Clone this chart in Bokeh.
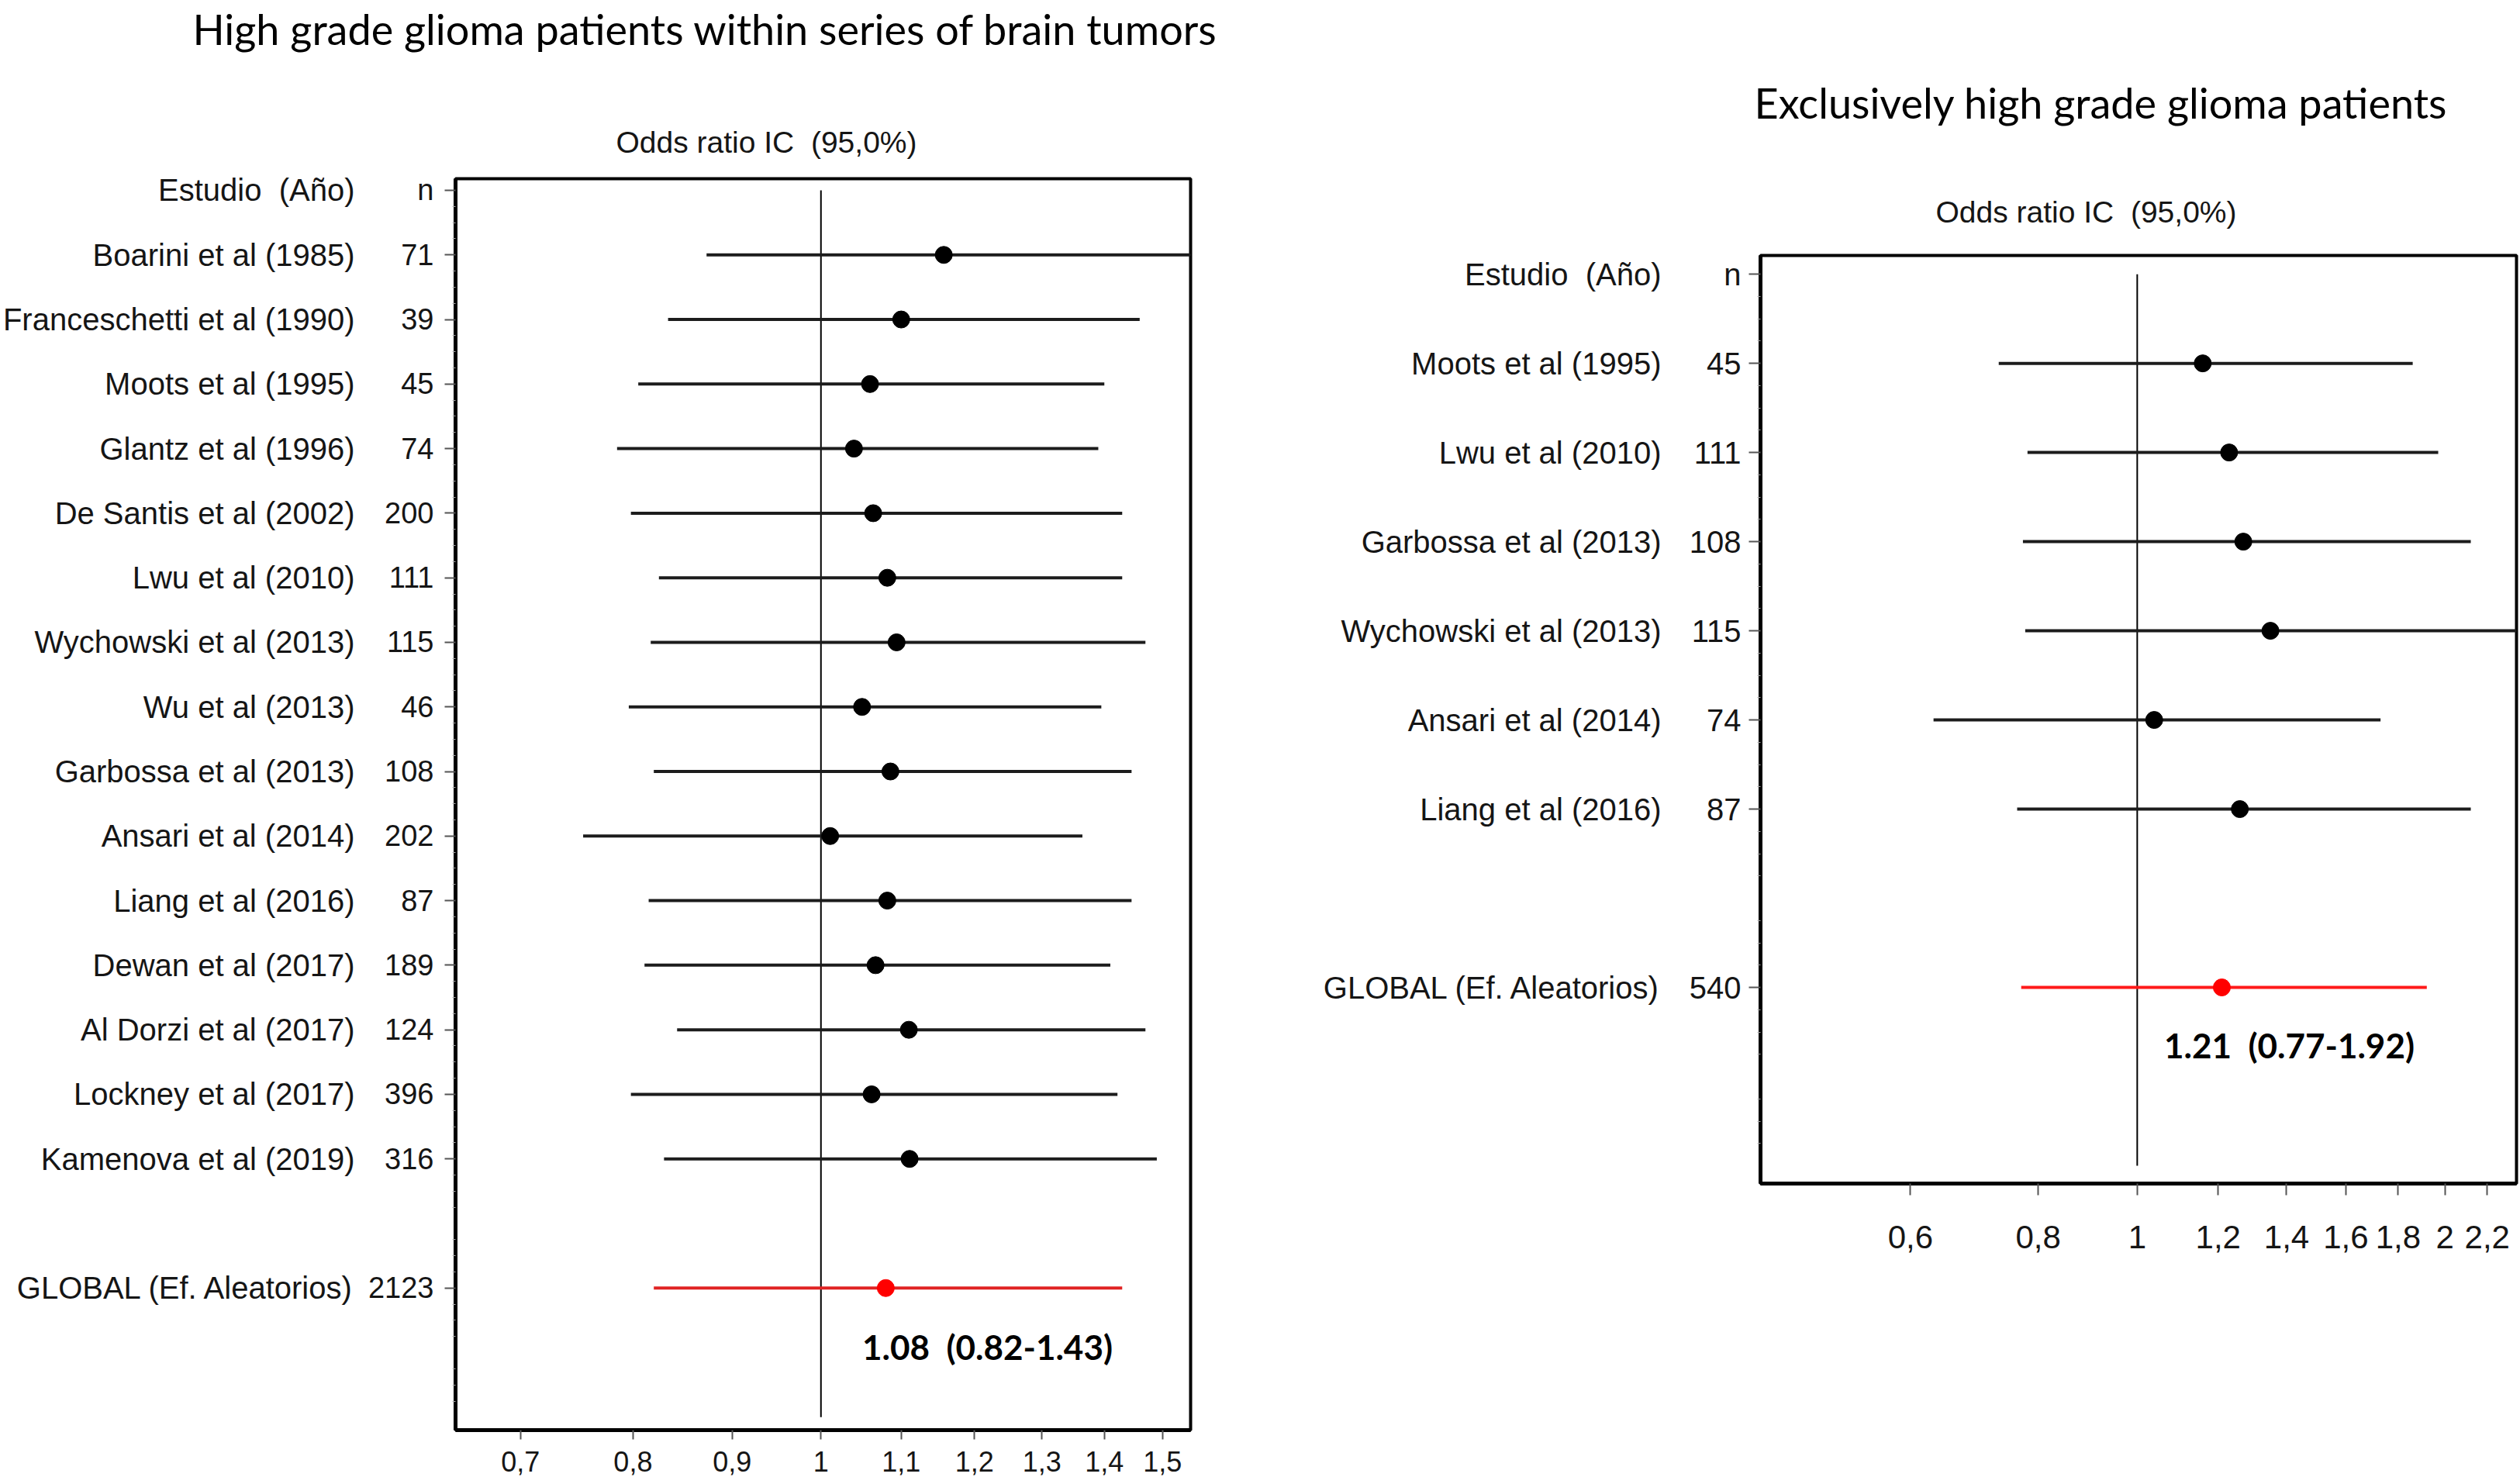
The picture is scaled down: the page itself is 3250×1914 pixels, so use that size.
from bokeh.plotting import figure
from bokeh.models import (Range1d, FixedTicker, CustomJSTickFormatter, Label,
                          LinearAxis, Title)
from bokeh.layouts import row, column
from bokeh.embed import file_html
from bokeh.resources import INLINE

# ---------------- data: left panel ----------------
left_title = "High grade glioma patients within series of brain tumors"
left_studies = ["Boarini et al (1985)", "Franceschetti et al (1990)", "Moots et al (1995)",
                "Glantz et al (1996)", "De Santis et al (2002)", "Lwu et al (2010)",
                "Wychowski et al (2013)", "Wu et al (2013)", "Garbossa et al (2013)",
                "Ansari et al (2014)", "Liang et al (2016)", "Dewan et al (2017)",
                "Al Dorzi et al (2017)", "Lockney et al (2017)", "Kamenova et al (2019)"]
left_n = [71, 39, 45, 74, 200, 111, 115, 46, 108, 202, 87, 189, 124, 396, 316]
left_or = [1.157, 1.10, 1.06, 1.04, 1.064, 1.082, 1.094, 1.05, 1.086, 1.011,
           1.082, 1.067, 1.110, 1.062, 1.111]
left_lo = [0.873, 0.834, 0.805, 0.785, 0.798, 0.825, 0.817, 0.796, 0.820, 0.754,
           0.815, 0.811, 0.843, 0.798, 0.830]
left_hi = [1.62, 1.46, 1.40, 1.39, 1.43, 1.43, 1.47, 1.395, 1.446, 1.364,
           1.446, 1.41, 1.47, 1.422, 1.49]
left_global_n = 2123
left_global_or = 1.08
left_global_lo = 0.82
left_global_hi = 1.43
left_ticks = [0.7, 0.8, 0.9, 1, 1.1, 1.2, 1.3, 1.4, 1.5]
left_summary = "1.08\u00a0 (0.82-1.43)"

# ---------------- data: right panel ----------------
right_title = "Exclusively high grade glioma patients"
right_studies = ["Moots et al (1995)", "Lwu et al (2010)", "Garbossa et al (2013)",
                 "Wychowski et al (2013)", "Ansari et al (2014)", "Liang et al (2016)"]
right_n = [45, 111, 108, 115, 74, 87]
right_or = [1.159, 1.23, 1.27, 1.35, 1.039, 1.26]
right_lo = [0.732, 0.781, 0.773, 0.777, 0.632, 0.763]
right_hi = [1.86, 1.97, 2.12, 2.6, 1.73, 2.12]
right_global_n = 540
right_global_or = 1.21
right_global_lo = 0.77
right_global_hi = 1.92
right_ticks = [0.6, 0.8, 1, 1.2, 1.4, 1.6, 1.8, 2, 2.2]
right_summary = "1.21\u00a0 (0.77-1.92)"

# ---------------- shared texts ----------------
global_label = "GLOBAL (Ef. Aleatorios)"
header_study = "Estudio\u00a0 (Año)"
header_n = "n"
axis_title = "Odds ratio IC\u00a0 (95,0%)"
null_value = 1

H = 1914
FONT = "Liberation Sans"
TXT = "#151515"


def make_panel(title, studies, ns, ors, los, his, g_n, g_or, g_lo, g_hi, ticks,
               summary, L):
    N = len(studies)
    rows = list(range(1, N + 1))
    g_row = N + 2
    p = figure(width=L["w"], height=H, x_axis_type="log",
               x_range=Range1d(*L["xr"]), y_range=Range1d(g_row + 2.2, L["ytop"]),
               output_backend="svg", toolbar_location=None,
               min_border_left=L["bl"], min_border_right=L["br"],
               min_border_top=L["bt"], min_border_bottom=H - L["bt"] - L["fh"])
    p.xgrid.visible = False
    p.ygrid.visible = False
    p.outline_line_color = "black"
    p.outline_line_width = 4
    p.outline_line_alpha = 1
    p.background_fill_color = "white"
    p.border_fill_color = "white"

    # reference line at OR = 1
    p.segment(x0=[null_value], y0=[0], x1=[null_value], y1=[g_row + 2],
              line_color="black", line_width=2)
    # studies
    p.segment(x0=los, y0=rows, x1=his, y1=rows, line_color="#1c1c1c", line_width=4)
    p.scatter(x=ors, y=rows, size=22, marker="circle", color="black")
    # global
    p.segment(x0=[g_lo], y0=[g_row], x1=[g_hi], y1=[g_row],
              line_color=L["red_line"], line_width=4)
    p.scatter(x=[g_or], y=[g_row], size=22, marker="circle", color="#ff0000")

    # x axis
    xa = p.xaxis[0]
    xa.ticker = FixedTicker(ticks=ticks, minor_ticks=[])
    xa.formatter = CustomJSTickFormatter(code="return String(tick).replace('.', ',');")
    xa.axis_line_color = "black"
    xa.axis_line_width = 5
    xa.major_tick_in = 0
    xa.major_tick_out = L["xto"]
    xa.major_tick_line_color = "#555555"
    xa.major_tick_line_width = 2
    xa.minor_tick_line_color = None
    xa.major_label_text_font = FONT
    xa.major_label_text_font_size = L["xfs"]
    xa.major_label_text_color = TXT
    xa.major_label_standoff = L["xso"]

    ticks_y = [0] + rows + [g_row]
    # inner y axis: n column
    ya = p.yaxis[0]
    minor = [i * 0.25 for i in range(0, (g_row + 2) * 4 + 1) if i % 4]
    ya.ticker = FixedTicker(ticks=ticks_y, minor_ticks=minor)
    n_labels = {0: header_n}
    for r, n in zip(rows, ns):
        n_labels[r] = str(n)
    n_labels[g_row] = str(g_n)
    ya.major_label_overrides = n_labels
    ya.axis_line_color = "black"
    ya.axis_line_width = 5
    ya.major_tick_in = 0
    ya.major_tick_out = L["yto"]
    ya.major_tick_line_color = "#555555"
    ya.major_tick_line_width = 2
    ya.minor_tick_in = 0
    ya.minor_tick_out = 4
    ya.minor_tick_line_color = "#aaaaaa"
    ya.minor_tick_line_width = 1
    ya.major_label_text_font = FONT
    ya.major_label_text_font_size = L["nfs"]
    ya.major_label_text_color = TXT
    ya.major_label_standoff = L["yso"]

    # outer y axis: study names
    name_labels = {0: header_study}
    for r, s in zip(rows, studies):
        name_labels[r] = s
    name_labels[g_row] = global_label
    na = LinearAxis(ticker=FixedTicker(ticks=ticks_y, minor_ticks=[]),
                    major_label_overrides=name_labels,
                    axis_line_color=None, major_tick_line_color=None,
                    minor_tick_line_color=None, major_tick_out=0, major_tick_in=0,
                    major_label_standoff=L["nso"],
                    major_label_text_font=FONT, major_label_text_font_size=L["names_fs"],
                    major_label_text_color=TXT)
    p.add_layout(na, "left")

    # titles above the frame
    p.add_layout(Title(text=axis_title, align="left", offset=L["odds_off"],
                       standoff=L["odds_so"], text_font=FONT, text_font_size="39px",
                       text_font_style="normal", text_color=TXT), "above")
    p.add_layout(Title(text=title + "\n" * L["title_nl"], align="left",
                       offset=L["title_off"], standoff=L["title_so"],
                       text_font="Lato", text_font_size="54px",
                       text_font_style="normal", text_color="black"), "above")

    # pooled estimate annotation (inside the frame)
    p.add_layout(Label(x=L["sum_x"], y=L["sum_y"], x_units="screen", y_units="data",
                       text=summary, text_align="center", text_baseline="middle",
                       text_font="Lato", text_font_style="bold", text_font_size="44px",
                       text_color="black"))
    return p


LEFT = dict(w=1640, bl=584, br=105, bt=230, fh=1614, xr=(0.648, 1.551), ytop=-0.18,
            red_line="#e02424", xto=12, xso=15, xfs="36px", yto=14, yso=14, nfs="38px",
            names_fs="40px", nso=14, odds_off=207, odds_so=51,
            title_off=-339, title_so=0, title_nl=1,
            sum_x=686, sum_y=17.91)
RIGHT = dict(w=1610, bl=630, br=5, bt=329, fh=1197, xr=(0.428, 2.35), ytop=-0.21,
             red_line="#ff1a1a", xto=15, xso=39, xfs="42px", yto=15, yso=10, nfs="40px",
             names_fs="40px", nso=33, odds_off=226, odds_so=69,
             title_off=-8, title_so=101, title_nl=0,
             sum_x=682, sum_y=8.65)

p1 = make_panel(left_title, left_studies, left_n, left_or, left_lo, left_hi,
                left_global_n, left_global_or, left_global_lo, left_global_hi,
                left_ticks, left_summary, LEFT)
p2 = make_panel(right_title, right_studies, right_n, right_or, right_lo, right_hi,
                right_global_n, right_global_or, right_global_lo, right_global_hi,
                right_ticks, right_summary, RIGHT)

layout = row(column(p1), column(p2))
open("out.html", "w").write(file_html(layout, INLINE))
